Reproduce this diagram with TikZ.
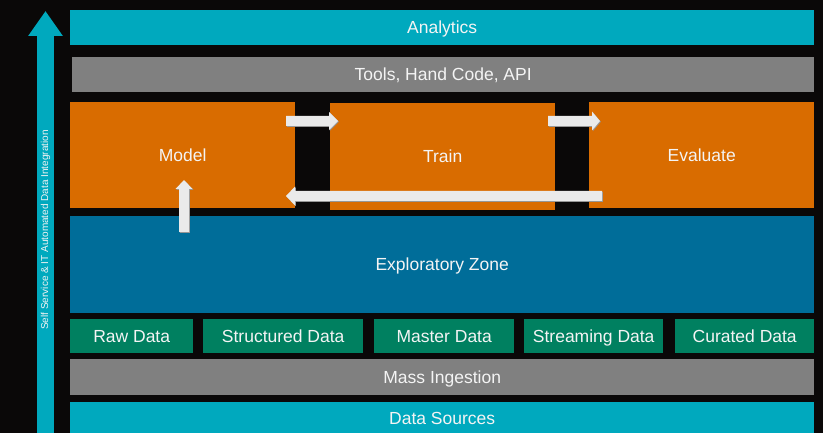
\documentclass[tikz,border=0pt]{standalone}
\usepackage{fontspec}
\setmainfont{Liberation Sans}
\usetikzlibrary{arrows.meta}
\definecolor{bgc}{RGB}{10,8,8}
\definecolor{tealc}{RGB}{0,169,190}
\definecolor{grayc}{RGB}{128,128,128}
\definecolor{orangec}{RGB}{217,108,0}
\definecolor{bluec}{RGB}{0,109,153}
\definecolor{greenc}{RGB}{0,128,96}
\definecolor{arrowc}{RGB}{234,234,234}
\definecolor{shadowc}{RGB}{150,150,150}
\definecolor{textc}{RGB}{244,244,244}
\tikzset{
  bar/.style={rectangle, inner sep=0pt, draw=none, text=textc, font=\fontsize{17.5}{20}\selectfont, text height=12.6pt, text depth=0pt, anchor=north west},
  flowfill/.style={fill=arrowc},
  flowshadow/.style={fill=shadowc},
  side/.style={draw=tealc, line width=17pt, -{Triangle[length=25pt 0 0,width=33pt 0 0]}},
}
\begin{document}
\begin{tikzpicture}[x=1pt,y=-1pt]
\useasboundingbox[fill=bgc] (0,0) rectangle (823,433);
% left vertical arrow
\coordinate (sbot) at (45.5,433);
\coordinate (stop) at (45.5,11);
\draw[side] (sbot) -- (stop);
\node[rotate=90, text=textc, font=\fontsize{10}{12}\selectfont] (sidetxt) at (45.5,230) {Self Service \& IT Automated Data Integration};
% bars
\node[bar, fill=tealc, minimum width=744pt, minimum height=35pt] (analytics) at (70,10) {Analytics};
\node[bar, fill=grayc, minimum width=742pt, minimum height=35pt] (tools) at (72,57) {Tools, Hand Code, API};
\node[bar, fill=orangec, minimum width=225pt, minimum height=106pt] (model) at (70,102) {Model};
\node[bar, fill=orangec, minimum width=225pt, minimum height=107pt] (train) at (330,103) {Train};
\node[bar, fill=orangec, minimum width=225pt, minimum height=106pt] (evaluate) at (589,102) {Evaluate};
\node[bar, fill=bluec, minimum width=744pt, minimum height=97pt] (explore) at (70,216) {Exploratory Zone};
\node[bar, fill=greenc, minimum width=123pt, minimum height=34pt] (raw) at (70,318.5) {Raw Data};
\node[bar, fill=greenc, minimum width=160pt, minimum height=34pt] (struct) at (203,318.5) {Structured Data};
\node[bar, fill=greenc, minimum width=140pt, minimum height=34pt] (master) at (374,318.5) {Master Data};
\node[bar, fill=greenc, minimum width=139pt, minimum height=34pt] (stream) at (524,318.5) {Streaming Data};
\node[bar, fill=greenc, minimum width=139pt, minimum height=34pt] (curated) at (675,318.5) {Curated Data};
\node[bar, fill=grayc, minimum width=744pt, minimum height=36pt] (mass) at (70,359) {Mass Ingestion};
\node[bar, fill=tealc, minimum width=744pt, minimum height=32pt] (sources) at (70,402) {Data Sources};
% flow arrows (block arrows)
\coordinate (a1s) at (286,121);
\coordinate (a2s) at (548,121);
\coordinate (a3s) at (602,196);
\coordinate (a4s) at (184,232);
% Model -> Train
\begin{scope}[shift={(a1s)}]
  \fill[flowshadow] (0.8,-4.2) -- (43.8,-4.2) -- (43.8,-8.2) -- (52.8,0.8) -- (43.8,9.8) -- (43.8,5.8) -- (0.8,5.8) -- cycle;
  \fill[flowfill] (0,-5) -- (43,-5) -- (43,-9) -- (52,0) -- (43,9) -- (43,5) -- (0,5) -- cycle;
\end{scope}
% Train -> Evaluate
\begin{scope}[shift={(a2s)}]
  \fill[flowshadow] (0.8,-4.2) -- (44.8,-4.2) -- (44.8,-8.7) -- (52.8,0.8) -- (44.8,10.3) -- (44.8,5.8) -- (0.8,5.8) -- cycle;
  \fill[flowfill] (0,-5) -- (44,-5) -- (44,-9.5) -- (52,0) -- (44,9.5) -- (44,5) -- (0,5) -- cycle;
\end{scope}
% Evaluate -> Model (return)
\begin{scope}[shift={(a3s)}]
  \fill[flowshadow] (0.8,-4.2) -- (-306.2,-4.2) -- (-306.2,-8.7) -- (-315.2,0.8) -- (-306.2,10.3) -- (-306.2,5.8) -- (0.8,5.8) -- cycle;
  \fill[flowfill] (0,-5) -- (-307,-5) -- (-307,-9.5) -- (-316,0) -- (-307,9.5) -- (-307,5) -- (0,5) -- cycle;
\end{scope}
% Exploratory Zone -> Model
\begin{scope}[shift={(a4s)}]
  \fill[flowshadow] (-4.2,0.8) -- (-4.2,-42.2) -- (-7.7,-42.2) -- (0.8,-51.2) -- (9.3,-42.2) -- (5.8,-42.2) -- (5.8,0.8) -- cycle;
  \fill[flowfill] (-5,0) -- (-5,-43) -- (-8.5,-43) -- (0,-52) -- (8.5,-43) -- (5,-43) -- (5,0) -- cycle;
\end{scope}
\end{tikzpicture}
\end{document}
